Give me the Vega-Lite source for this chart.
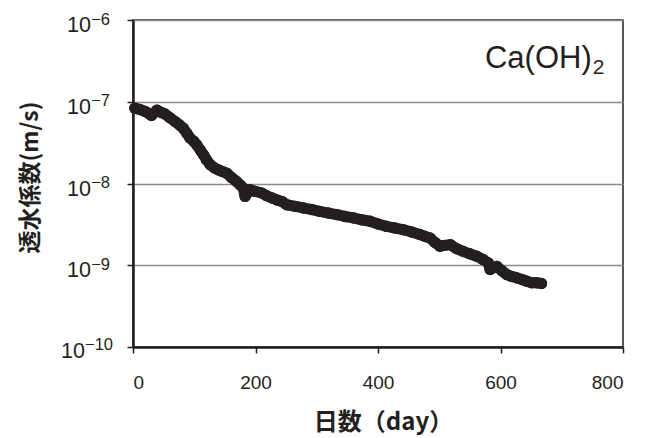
{
  "$schema": "https://vega.github.io/schema/vega-lite/v6.json",
  "autosize": "none",
  "width": 490,
  "height": 327,
  "padding": {"left": 133, "top": 20, "right": 30, "bottom": 91},
  "background": "white",
  "config": {
    "view": {"stroke": "#231f20", "strokeWidth": 1.5},
    "font": "Liberation Sans"
  },
  "datasets": {
    "k": [
      {"day": 3, "k": 8.35e-8}, {"day": 12, "k": 8.0e-8}, {"day": 20, "k": 7.6e-8},
      {"day": 30, "k": 6.8e-8}, {"day": 39, "k": 7.9e-8}, {"day": 46, "k": 7.4e-8},
      {"day": 52, "k": 7.1e-8}, {"day": 60, "k": 6.4e-8}, {"day": 69, "k": 5.7e-8},
      {"day": 76, "k": 5.2e-8}, {"day": 82, "k": 4.76e-8}, {"day": 88, "k": 4.1e-8},
      {"day": 93, "k": 3.6e-8}, {"day": 99, "k": 3.3e-8}, {"day": 104, "k": 2.98e-8},
      {"day": 110, "k": 2.55e-8}, {"day": 115, "k": 2.25e-8}, {"day": 120, "k": 1.95e-8},
      {"day": 126, "k": 1.7e-8}, {"day": 133, "k": 1.55e-8}, {"day": 139, "k": 1.47e-8},
      {"day": 146, "k": 1.4e-8}, {"day": 153, "k": 1.34e-8}, {"day": 161, "k": 1.18e-8},
      {"day": 169, "k": 1.06e-8}, {"day": 175, "k": 9.6e-9}, {"day": 180, "k": 8.8e-9},
      {"day": 183, "k": 6.95e-9}, {"day": 191, "k": 8.4e-9}, {"day": 200, "k": 8.0e-9},
      {"day": 210, "k": 7.65e-9}, {"day": 218, "k": 7.1e-9}, {"day": 227, "k": 6.65e-9},
      {"day": 235, "k": 6.3e-9}, {"day": 243, "k": 6.04e-9}, {"day": 251, "k": 5.5e-9},
      {"day": 265, "k": 5.25e-9}, {"day": 278, "k": 5.02e-9}, {"day": 292, "k": 4.8e-9},
      {"day": 305, "k": 4.56e-9}, {"day": 319, "k": 4.35e-9}, {"day": 333, "k": 4.16e-9},
      {"day": 346, "k": 3.95e-9}, {"day": 360, "k": 3.79e-9}, {"day": 373, "k": 3.6e-9},
      {"day": 387, "k": 3.45e-9}, {"day": 400, "k": 3.2e-9}, {"day": 414, "k": 2.99e-9},
      {"day": 428, "k": 2.85e-9}, {"day": 441, "k": 2.73e-9}, {"day": 455, "k": 2.55e-9},
      {"day": 469, "k": 2.37e-9}, {"day": 477, "k": 2.25e-9}, {"day": 485, "k": 2.16e-9},
      {"day": 493, "k": 1.9e-9}, {"day": 501, "k": 1.71e-9}, {"day": 509, "k": 1.75e-9},
      {"day": 518, "k": 1.79e-9}, {"day": 528, "k": 1.6e-9}, {"day": 539, "k": 1.48e-9},
      {"day": 550, "k": 1.38e-9}, {"day": 561, "k": 1.29e-9}, {"day": 571, "k": 1.18e-9},
      {"day": 580, "k": 1.07e-9}, {"day": 583, "k": 8.85e-10}, {"day": 594, "k": 9.7e-10},
      {"day": 602, "k": 8.6e-10}, {"day": 610, "k": 7.7e-10}, {"day": 618, "k": 7.3e-10},
      {"day": 627, "k": 7.0e-10}, {"day": 635, "k": 6.7e-10}, {"day": 643, "k": 6.38e-10},
      {"day": 651, "k": 6.1e-10}, {"day": 659, "k": 6.1e-10}, {"day": 667, "k": 5.98e-10}
    ],
    "exp1": [
      {"day": 0, "k": 1e-6, "e": "−6"},
      {"day": 0, "k": 1e-7, "e": "−7"},
      {"day": 0, "k": 1e-8, "e": "−8"},
      {"day": 0, "k": 1e-9, "e": "−9"}
    ],
    "exp2": [
      {"day": 0, "k": 1e-10, "e": "−10"}
    ],
    "label": [
      {"day": 749, "k": 2.6e-7, "t": "Ca(OH)"}
    ],
    "sub": [
      {"day": 749, "k": 2.19e-7, "t": "2"}
    ]
  },
  "layer": [
    {
      "data": {"name": "k"},
      "mark": {"type": "line", "color": "#231f20", "strokeWidth": 11, "strokeCap": "round", "strokeJoin": "round"},
      "encoding": {
        "x": {
          "field": "day", "type": "quantitative",
          "scale": {"domain": [0, 800], "nice": false},
          "axis": {
            "values": [0, 200, 400, 600, 800],
            "title": "日数（day）",
            "titleFont": "Noto Sans CJK JP", "titleFontWeight": "bold", "titleFontSize": 24,
            "titleColor": "#231f20",
            "titleX": 250, "titleY": 75, "titleBaseline": "middle", "titleAlign": "center",
            "labelFont": "Liberation Sans", "labelFontSize": 19, "labelColor": "#231f20",
            "labelPadding": 20, "tickSize": 6, "tickColor": "#231f20", "tickWidth": 1.5,
            "domainColor": "#231f20", "domainWidth": 2.5, "grid": false
          }
        },
        "y": {
          "field": "k", "type": "quantitative",
          "scale": {"type": "log", "domain": [1e-10, 1e-6], "nice": false},
          "axis": {
            "values": [1e-10, 1e-9, 1e-8, 1e-7, 1e-6],
            "labels": false,
            "title": "透水係数(m/s)",
            "titleFont": "Noto Sans CJK JP", "titleFontWeight": "bold", "titleFontSize": 23,
            "titleColor": "#231f20",
            "titleX": -103, "titleY": 157, "titleBaseline": "middle", "titleAlign": "center", "titleAngle": -90,
            "tickSize": 6, "tickColor": "#231f20", "tickWidth": 1.5,
            "domainColor": "#231f20", "domainWidth": 2.5,
            "grid": true, "gridColor": "#8c8c8c", "gridWidth": 1.5
          }
        }
      }
    },
    {
      "data": {"name": "k"},
      "mark": {"type": "circle", "color": "#231f20", "opacity": 1, "size": 130},
      "encoding": {
        "x": {"field": "day", "type": "quantitative"},
        "y": {"field": "k", "type": "quantitative"}
      }
    },
    {
      "data": {"name": "exp1"},
      "mark": {"type": "text", "align": "right", "baseline": "alphabetic", "fontSize": 16.5, "font": "Liberation Sans", "color": "#231f20", "dx": -23, "dy": 4.5},
      "encoding": {
        "x": {"field": "day", "type": "quantitative"},
        "y": {"field": "k", "type": "quantitative"},
        "text": {"field": "e"}
      }
    },
    {
      "data": {"name": "exp1"},
      "mark": {"type": "text", "align": "right", "baseline": "alphabetic", "fontSize": 21.5, "font": "Liberation Sans", "color": "#231f20", "dx": -42, "dy": 12},
      "encoding": {
        "x": {"field": "day", "type": "quantitative"},
        "y": {"field": "k", "type": "quantitative"},
        "text": {"value": "10"}
      }
    },
    {
      "data": {"name": "exp2"},
      "mark": {"type": "text", "align": "right", "baseline": "alphabetic", "fontSize": 16.5, "font": "Liberation Sans", "color": "#231f20", "dx": -20, "dy": 3},
      "encoding": {
        "x": {"field": "day", "type": "quantitative"},
        "y": {"field": "k", "type": "quantitative"},
        "text": {"field": "e"}
      }
    },
    {
      "data": {"name": "exp2"},
      "mark": {"type": "text", "align": "right", "baseline": "alphabetic", "fontSize": 21.5, "font": "Liberation Sans", "color": "#231f20", "dx": -48, "dy": 11},
      "encoding": {
        "x": {"field": "day", "type": "quantitative"},
        "y": {"field": "k", "type": "quantitative"},
        "text": {"value": "10"}
      }
    },
    {
      "data": {"name": "label"},
      "mark": {"type": "text", "align": "right", "baseline": "alphabetic", "fontSize": 31, "font": "Liberation Sans", "color": "#231f20"},
      "encoding": {
        "x": {"field": "day", "type": "quantitative"},
        "y": {"field": "k", "type": "quantitative"},
        "text": {"field": "t"}
      }
    },
    {
      "data": {"name": "sub"},
      "mark": {"type": "text", "align": "left", "baseline": "alphabetic", "fontSize": 21, "font": "Liberation Sans", "color": "#231f20", "dx": 1},
      "encoding": {
        "x": {"field": "day", "type": "quantitative"},
        "y": {"field": "k", "type": "quantitative"},
        "text": {"field": "t"}
      }
    }
  ]
}
